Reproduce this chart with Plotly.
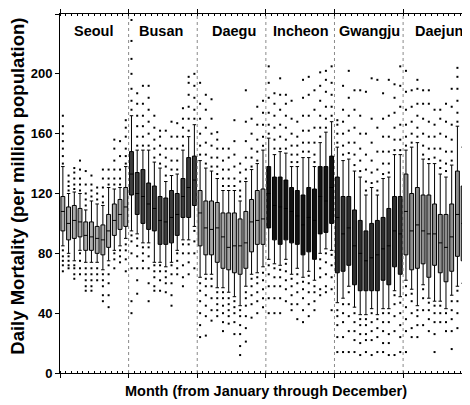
import plotly.graph_objects as go

cities = ["Seoul", "Busan", "Daegu", "Incheon", "Gwangju", "Daejun"]
months = list(range(1, 13))

# Box statistics per city (January..December)
q1 = {
    "Seoul":   [95, 89, 90, 91, 82, 82, 80, 79, 84, 92, 96, 98],
    "Busan":   [119, 106, 100, 96, 95, 86, 86, 87, 92, 104, 104, 112],
    "Daegu":   [85, 79, 79, 74, 70, 69, 67, 66, 70, 81, 86, 86],
    "Incheon": [97, 89, 86, 89, 87, 86, 79, 81, 76, 93, 94, 100],
    "Gwangju": [67, 68, 72, 59, 55, 55, 55, 55, 62, 59, 71, 66],
    "Daejun":  [79, 69, 70, 73, 64, 72, 67, 61, 68, 78, 75, 85],
}
median = {
    "Seoul":   [108, 100, 102, 101, 92, 91, 90, 89, 95, 102, 106, 111],
    "Busan":   [133, 120, 118, 113, 110, 102, 101, 104, 106, 118, 124, 129],
    "Daegu":   [107, 97, 96, 97, 91, 84, 85, 85, 87, 101, 102, 103],
    "Incheon": [120, 112, 111, 110, 108, 105, 99, 104, 102, 118, 115, 124],
    "Gwangju": [104, 93, 97, 85, 80, 75, 77, 79, 83, 85, 95, 93],
    "Daejun":  [108, 95, 99, 95, 93, 93, 87, 84, 91, 106, 100, 106],
}
q3 = {
    "Seoul":   [118, 111, 112, 110, 101, 101, 98, 99, 106, 113, 116, 124],
    "Busan":   [148, 134, 136, 127, 125, 118, 117, 122, 120, 130, 144, 145],
    "Daegu":   [122, 115, 115, 114, 107, 107, 107, 103, 108, 116, 122, 123],
    "Incheon": [138, 131, 131, 129, 124, 122, 119, 124, 123, 138, 138, 145],
    "Gwangju": [131, 118, 118, 109, 102, 95, 100, 102, 104, 110, 118, 118],
    "Daejun":  [133, 120, 124, 119, 119, 113, 106, 106, 113, 135, 125, 127],
}
lower_whisker = {
    "Seoul":   [85, 80, 75, 82, 74, 74, 74, 69, 75, 82, 85, 90],
    "Busan":   [95, 93, 87, 87, 74, 74, 71, 74, 82, 89, 89, 98],
    "Daegu":   [64, 66, 66, 57, 57, 54, 51, 45, 58, 66, 67, 71],
    "Incheon": [76, 73, 72, 76, 66, 70, 64, 68, 62, 80, 83, 82],
    "Gwangju": [47, 50, 58, 44, 39, 39, 43, 39, 43, 43, 55, 51],
    "Daejun":  [62, 56, 45, 59, 50, 48, 48, 43, 52, 58, 60, 60],
}
upper_whisker = {
    "Seoul":   [138, 120, 121, 120, 109, 115, 113, 112, 124, 123, 124, 138],
    "Busan":   [172, 149, 149, 149, 141, 137, 128, 132, 133, 149, 158, 166],
    "Daegu":   [142, 137, 135, 130, 122, 122, 122, 115, 128, 136, 140, 149],
    "Incheon": [157, 146, 148, 147, 138, 138, 144, 144, 138, 154, 161, 168],
    "Gwangju": [151, 142, 143, 135, 131, 119, 124, 119, 130, 131, 146, 146],
    "Daejun":  [149, 151, 154, 143, 140, 140, 133, 131, 139, 165, 151, 157],
}
# Outlying days per city and month
outliers = {
    "Seoul": [
        [140, 145, 150, 155, 160, 165, 172, 82, 78, 75, 72, 68],
        [122, 125, 128, 132, 78, 75, 72, 70],
        [123, 126, 130, 134, 137, 72, 70, 66, 63],
        [122, 126, 130, 136, 142, 80, 75, 70, 66],
        [112, 116, 120, 126, 135, 70, 66, 62, 58, 55],
        [118, 122, 126, 132, 70, 66, 62, 58, 55],
        [116, 120, 124, 70, 66, 62],
        [114, 118, 124, 130, 136, 66, 62, 58, 52, 48],
        [126, 130, 136, 72, 66, 60, 52, 44],
        [126, 130, 136, 142, 150, 156, 80, 76, 70],
        [126, 130, 136, 145, 155, 82, 78, 74],
        [140, 145, 150, 158, 164, 169, 86, 82, 76, 68],
    ],
    "Busan": [
        [176, 182, 190, 200, 210, 222, 236, 92, 88, 80, 70, 48, 40],
        [152, 158, 165, 172, 180, 187, 90, 85, 78, 70, 62, 53],
        [152, 158, 165, 172, 180, 192, 84, 80, 75, 70],
        [152, 160, 168, 176, 184, 192, 84, 78, 70, 60, 48],
        [144, 150, 156, 164, 172, 72, 68, 64, 58, 55],
        [140, 146, 152, 158, 162, 72, 68, 62, 55],
        [132, 138, 144, 150, 162, 68, 64, 60, 54],
        [136, 142, 150, 158, 168, 72, 66, 60, 52, 45],
        [136, 142, 150, 158, 167, 80, 75, 70, 66],
        [152, 158, 164, 170, 177, 86, 80, 72, 64, 58],
        [162, 170, 178, 186, 194, 198, 86, 80, 74, 66],
        [170, 176, 184, 192, 200, 95, 88, 80, 70],
    ],
    "Daegu": [
        [146, 152, 160, 170, 180, 194, 60, 55, 48, 40, 32, 24],
        [140, 146, 154, 164, 176, 186, 63, 58, 52, 45, 38, 25],
        [138, 144, 152, 160, 170, 183, 63, 58, 50, 42, 35],
        [133, 138, 144, 150, 156, 161, 54, 50, 46, 42, 38],
        [125, 130, 136, 142, 150, 54, 50, 45, 40, 34, 28],
        [125, 130, 136, 144, 150, 50, 46, 42, 38, 33],
        [125, 130, 138, 146, 155, 169, 48, 44, 40, 34, 26],
        [118, 122, 128, 134, 140, 42, 38, 32, 26, 18, 12],
        [130, 136, 144, 155, 168, 189, 54, 50, 45, 38, 30, 21],
        [138, 144, 150, 160, 170, 63, 58, 52, 46, 37],
        [142, 148, 156, 166, 178, 64, 60, 54, 48, 40],
        [152, 158, 166, 174, 182, 67, 62, 56, 50, 44],
    ],
    "Incheon": [
        [160, 166, 174, 184, 194, 205, 72, 66, 58, 50, 40],
        [150, 156, 164, 172, 180, 187, 70, 64, 58, 50, 40],
        [150, 158, 166, 176, 186, 197, 69, 64, 58, 50, 40],
        [150, 156, 164, 172, 180, 186, 73, 68, 62, 56, 48],
        [141, 146, 152, 160, 170, 182, 63, 58, 52, 46, 42],
        [141, 146, 152, 158, 168, 66, 60, 54, 46, 36],
        [148, 154, 162, 172, 184, 196, 61, 56, 50, 42, 34],
        [148, 154, 162, 172, 186, 198, 65, 60, 54, 46, 38],
        [141, 146, 154, 164, 176, 189, 58, 54, 48, 42],
        [158, 164, 172, 182, 192, 201, 76, 70, 64, 56, 52],
        [164, 170, 178, 188, 196, 202, 80, 74, 66, 58, 54],
        [172, 178, 186, 194, 205, 79, 72, 64, 56, 42],
    ],
    "Gwangju": [
        [154, 160, 166, 169, 42, 38, 32, 24, 14],
        [146, 152, 160, 168, 176, 192, 46, 40, 34, 24, 14],
        [147, 154, 162, 172, 184, 202, 54, 46, 38, 28, 14],
        [139, 146, 154, 164, 176, 189, 40, 34, 28, 22, 14],
        [135, 142, 150, 160, 172, 189, 36, 32, 26, 20, 12],
        [122, 128, 136, 146, 160, 188, 36, 32, 26, 22, 14],
        [127, 134, 142, 154, 170, 197, 40, 34, 28, 22, 12],
        [122, 128, 136, 148, 164, 196, 36, 30, 24, 14],
        [133, 140, 148, 158, 170, 187, 40, 34, 28, 20, 14],
        [134, 140, 148, 158, 172, 196, 40, 34, 26, 20, 12],
        [149, 156, 164, 174, 184, 193, 52, 46, 38, 28, 12],
        [149, 156, 166, 178, 192, 205, 47, 40, 32, 24, 14],
    ],
    "Daejun": [
        [152, 158, 166, 176, 188, 202, 58, 52, 44, 36, 28, 14],
        [154, 160, 168, 178, 189, 53, 48, 40, 30, 24],
        [158, 164, 172, 180, 190, 196, 42, 38, 32, 24],
        [146, 152, 160, 170, 180, 189, 56, 50, 42, 32],
        [143, 150, 158, 168, 180, 189, 47, 42, 36, 28],
        [144, 150, 158, 166, 176, 45, 40, 34, 26, 14],
        [137, 142, 150, 160, 170, 176, 45, 40, 34],
        [135, 140, 148, 158, 168, 180, 40, 34, 28],
        [142, 148, 156, 166, 178, 190, 48, 42, 36, 28, 16],
        [168, 174, 182, 190, 198, 204, 55, 48, 40, 30],
        [154, 160, 168, 176, 186, 56, 50, 42, 34],
        [160, 166, 174, 184, 194, 56, 50, 42],
    ],
}
y_ticks = [0, 40, 80, 120, 160, 200, 240]

fills = {
    "Seoul": "#ababab", "Busan": "#3c3c3c", "Daegu": "#a4a4a4",
    "Incheon": "#111111", "Gwangju": "#2e2e2e", "Daejun": "#8e8e8e",
}

FONT = "Liberation Sans, Arial, sans-serif"
fig = go.Figure()

for ci, city in enumerate(cities):
    xs = [ci * 12 + (m - 1) for m in months]
    fig.add_trace(go.Box(
        x=xs, q1=q1[city], median=median[city], q3=q3[city],
        lowerfence=lower_whisker[city], upperfence=upper_whisker[city],
        boxpoints=False, width=0.68, whiskerwidth=0.9,
        fillcolor=fills[city], line=dict(color="#000000", width=1),
        showlegend=False, hoverinfo="skip",
    ))
    px, py = [], []
    for m, vals in zip(months, outliers[city]):
        for v in vals:
            px.append(ci * 12 + (m - 1))
            py.append(v)
    fig.add_trace(go.Scatter(
        x=px, y=py, mode="markers",
        marker=dict(symbol="square", size=2, color="#000000", line=dict(width=0)),
        showlegend=False, hoverinfo="skip",
    ))

shapes = []
for ci in range(1, 6):
    shapes.append(dict(type="line", xref="x", yref="paper",
                       x0=ci * 12 - 0.5, x1=ci * 12 - 0.5, y0=0, y1=1,
                       line=dict(color="#8a8a8a", width=1, dash="dot")))

label_offsets = [-0.2, -0.3, 0.4, 0.2, 0.2, 0.3]
annotations = []
for ci, city in enumerate(cities):
    annotations.append(dict(
        text=city, x=ci * 12 + 5.5 + label_offsets[ci], y=0.953,
        xref="x", yref="paper", showarrow=False,
        font=dict(family=FONT, size=14.5, color="#000", weight="bold"),
        xanchor="center", yanchor="middle"))
annotations.append(dict(
    text="Month (from January through December)", x=0.502, y=-0.049,
    xref="paper", yref="paper", showarrow=False,
    font=dict(family=FONT, size=14.5, color="#000", weight="bold"),
    xanchor="center", yanchor="middle"))
annotations.append(dict(
    text="Daily Mortality (per million population)", x=-0.104, y=0.52,
    xref="paper", yref="paper", showarrow=False, textangle=-90,
    font=dict(family=FONT, size=18.5, color="#000", weight="bold"),
    xanchor="center", yanchor="middle"))

# page body has an 8px default margin; the figure is sized so the plot lands
# where it does in the reference
fig.update_layout(
    width=462, height=397,
    margin=dict(l=52, r=0, t=6, b=32),
    paper_bgcolor="white", plot_bgcolor="white",
    boxmode="overlay",
    shapes=shapes, annotations=annotations,
    xaxis=dict(
        range=[-0.5, 71.2], showgrid=False, zeroline=False,
        showline=True, linecolor="#000", linewidth=1, mirror="ticks",
        tickmode="array", tickvals=[ci * 12 - 0.5 for ci in range(7)],
        ticks="outside", ticklen=4, tickcolor="#000", showticklabels=False,
        minor=dict(tick0=-0.5, dtick=1, ticks="inside", ticklen=2, tickcolor="#000"),
    ),
    yaxis=dict(
        range=[0, 240], showgrid=False, zeroline=False,
        showline=True, linecolor="#000", linewidth=1,
        tickmode="array", tickvals=y_ticks, ticks="outside", ticklen=4,
        tickcolor="#000",
        tickfont=dict(family=FONT, size=13, color="#000", weight="bold"),
    ),
)

fig.write_html("out.html")
